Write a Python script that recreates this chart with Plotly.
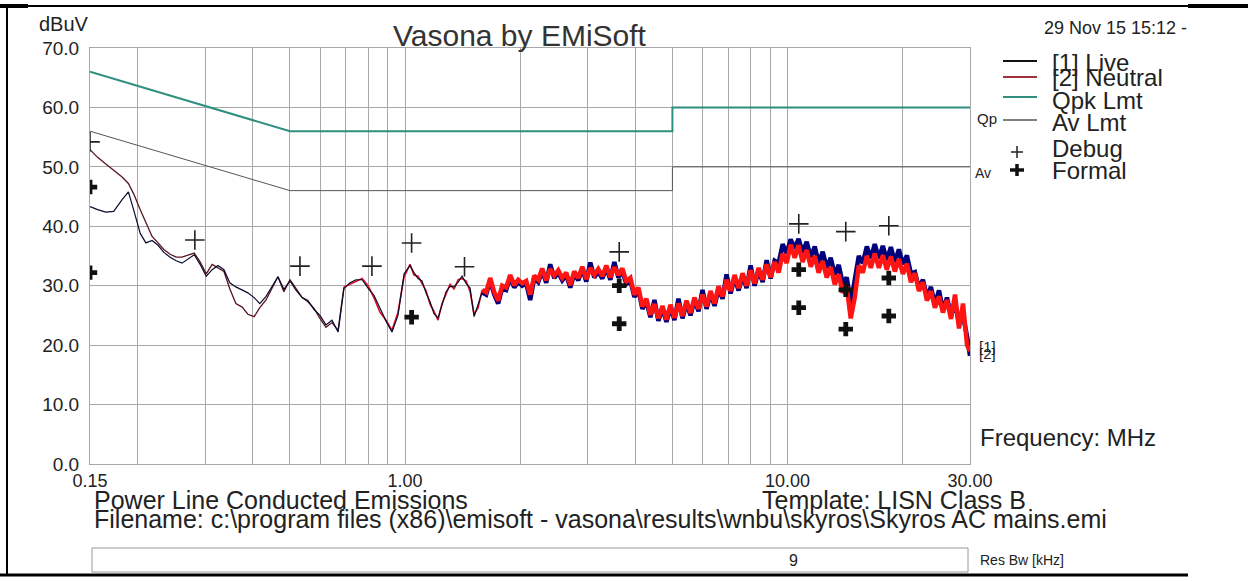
import plotly.graph_objects as go

# ---------------- data ----------------
# low-frequency sweep (MHz) and levels (dBuV)
freq_low = [0.150, 0.157, 0.165, 0.173, 0.182, 0.189, 0.195, 0.203, 0.210, 0.218,
            0.226, 0.234, 0.243, 0.252, 0.261, 0.271, 0.281, 0.291, 0.302, 0.313,
            0.324, 0.336, 0.348, 0.361, 0.375, 0.388, 0.403, 0.417, 0.433, 0.449,
            0.465, 0.482, 0.500, 0.519, 0.538, 0.557, 0.578, 0.599, 0.621, 0.644,
            0.668, 0.692, 0.718, 0.744, 0.772, 0.800, 0.829, 0.860, 0.892, 0.924,
            0.958, 0.994]
live_low = [43.3, 42.8, 42.4, 42.5, 44.5, 45.8, 42.8, 38.8, 37.2, 37.6,
            36.8, 35.6, 34.8, 34.2, 33.8, 34.5, 35.2, 33.6, 31.6, 32.7,
            33.4, 32.7, 30.5, 29.8, 29.3, 28.8, 28.0, 27.0, 28.2, 30.0,
            31.5, 29.4, 30.8, 29.2, 28.0, 27.5, 26.0, 25.0, 23.4, 24.2,
            22.2, 29.5, 30.5, 31.0, 31.0, 29.6, 28.4, 26.2, 24.0, 22.2,
            25.0, 32.0]
neutral_low = [52.9, 51.6, 50.5, 49.5, 48.3, 47.2, 45.5, 42.8, 40.6, 38.3,
               37.2, 36.1, 35.3, 34.8, 34.8, 35.2, 35.5, 34.0, 32.0, 33.6,
               33.0, 32.4, 29.5, 27.0, 26.4, 25.2, 24.8, 26.3, 27.6, 29.5,
               31.5, 29.0, 31.0, 29.5, 28.0, 27.3, 26.2, 24.5, 23.0, 23.8,
               22.5, 29.8, 30.3, 30.8, 31.2, 30.0, 28.0, 25.5, 24.2, 22.5,
               25.5, 31.5]

# high-frequency sweep (MHz) and levels (dBuV)
freq_high = [1.03, 1.055, 1.081, 1.107, 1.134, 1.162, 1.190, 1.219, 1.249, 1.280,
             1.311, 1.343, 1.376, 1.409, 1.444, 1.479, 1.515, 1.552, 1.590, 1.629,
             1.669, 1.709, 1.751, 1.794, 1.838, 1.883, 1.929, 1.976, 2.024, 2.073,
             2.124, 2.176, 2.229, 2.283, 2.339, 2.396, 2.455, 2.515, 2.576, 2.639,
             2.703, 2.769, 2.837, 2.906, 2.977, 3.050, 3.124, 3.200, 3.279, 3.359,
             3.441, 3.525, 3.611, 3.699, 3.789, 3.882, 3.977, 4.074, 4.173, 4.275,
             4.380, 4.487, 4.596, 4.709, 4.824, 4.942, 5.062, 5.186, 5.313, 5.442,
             5.575, 5.711, 5.851, 5.994, 6.140, 6.290, 6.444, 6.601, 6.762, 6.928,
             7.097, 7.270, 7.448, 7.630, 7.816, 8.007, 8.202, 8.403, 8.608, 8.818,
             9.033, 9.254, 9.480, 9.711, 9.949, 10.19, 10.44, 10.69, 10.95, 11.22,
             11.50, 11.78, 12.06, 12.36, 12.66, 12.97, 13.29, 13.61, 13.94, 14.28,
             14.63, 14.99, 15.36, 15.73, 16.12, 16.51, 16.91, 17.33, 17.75, 18.18,
             18.63, 19.08, 19.55, 20.03, 20.52, 21.02, 21.53, 22.06, 22.60, 23.15,
             23.71, 24.29, 24.89, 25.49, 26.12, 26.76, 27.41, 28.08, 28.76, 29.47,
             30.0]
live_high = [33.4, 32.2, 31.2, 30.8, 28.8, 27.3, 25.3, 24.6, 26.6, 29.0,
             29.9, 29.8, 30.6, 31.6, 30.4, 29.6, 24.8, 26.7, 28.9, 28.5,
             30.9, 28.6, 27.0, 29.6, 29.3, 31.4, 29.7, 30.6, 30.0, 30.4,
             27.6, 31.3, 30.6, 32.5, 30.5, 33.6, 31.3, 32.2, 30.9, 31.8,
             29.7, 32.0, 30.9, 32.8, 30.7, 33.9, 31.4, 32.4, 31.2, 33.0,
             31.0, 34.0, 31.4, 32.5, 30.3, 30.9, 28.1, 29.3, 26.1, 27.4,
             24.7, 27.6, 24.1, 26.2, 23.9, 26.4, 24.2, 27.8, 24.5, 27.1,
             25.0, 27.6, 25.7, 29.3, 26.1, 28.7, 26.6, 29.5, 27.8, 31.9,
             28.7, 31.4, 29.2, 31.7, 29.6, 33.4, 30.0, 32.6, 30.6, 34.3,
             31.2, 34.2, 33.8, 37.0, 35.4, 37.8, 36.3, 37.9, 35.6, 37.4,
             34.8, 36.6, 33.8, 35.7, 33.0, 34.7, 31.8, 33.5, 30.4, 31.4,
             27.0, 30.5, 35.0, 33.8, 36.6, 34.6, 37.0, 34.6, 36.7, 34.3,
             36.5, 34.0, 36.1, 33.6, 35.1, 32.0, 32.3, 29.6, 31.0, 28.0,
             29.8, 26.8, 29.2, 25.9, 28.0, 24.9, 27.2, 23.6, 25.0, 21.5,
             18.2]
neutral_high = [33.6, 31.8, 31.6, 30.4, 29.2, 26.9, 25.7, 24.2, 27.0, 28.6,
                30.3, 29.4, 31.0, 31.2, 30.8, 29.0, 25.2, 26.3, 29.3, 28.9,
                31.3, 29.0, 27.5, 30.0, 29.7, 31.8, 30.1, 31.0, 30.4, 30.8,
                28.5, 31.7, 31.0, 32.9, 30.9, 32.8, 31.7, 32.6, 31.3, 32.2,
                30.1, 32.4, 31.3, 33.2, 31.1, 33.0, 31.8, 32.8, 31.6, 33.4,
                31.4, 33.1, 31.8, 32.9, 30.7, 31.3, 28.5, 29.7, 26.5, 27.8,
                25.1, 26.9, 24.5, 26.6, 24.3, 26.8, 24.6, 27.0, 24.9, 27.5,
                25.4, 28.0, 26.1, 28.5, 26.5, 29.1, 27.0, 29.9, 28.2, 31.0,
                29.1, 31.8, 29.6, 32.1, 30.0, 32.6, 30.4, 33.0, 31.0, 33.6,
                31.4, 34.0, 32.2, 35.4, 33.8, 36.9, 34.7, 36.8, 34.0, 36.0,
                33.2, 35.0, 32.2, 34.1, 31.4, 33.1, 30.2, 31.9, 28.8, 29.8,
                24.5, 28.0, 33.4, 32.2, 35.0, 33.0, 35.4, 33.0, 35.1, 32.7,
                34.9, 32.4, 34.5, 32.0, 33.7, 30.6, 32.1, 29.1, 30.6, 27.5,
                29.1, 26.3, 28.2, 25.5, 27.6, 24.4, 28.5, 22.8, 27.0, 20.0,
                19.0]

# limit lines
limit_freq = [0.15, 0.5, 5.0, 5.0, 30.0]
qpk_limit = [66.0, 56.0, 56.0, 60.0, 60.0]
av_limit = [56.0, 46.0, 46.0, 50.0, 50.0]

# measured points
debug_freq = [0.15, 0.282, 0.531, 0.819, 1.04, 1.43, 3.63, 10.7, 14.2, 18.4]
debug_level = [54.2, 37.7, 33.3, 33.3, 37.2, 33.2, 35.7, 40.4, 39.1, 40.1]
formal_freq = [0.15, 0.15, 1.04, 3.63, 3.63, 10.7, 10.7, 14.2, 14.2, 18.4, 18.4]
formal_level = [46.6, 32.2, 24.7, 30.0, 23.6, 32.7, 26.3, 29.3, 22.7, 31.3, 24.9]

# axis ticks
x_grid_vals = [0.15, 0.2, 0.3, 0.4, 0.5, 0.6, 0.7, 0.8, 0.9, 1, 2, 3, 4, 5, 6, 7, 8, 9, 10, 20, 30]
x_grid_text = ["0.15", "", "", "", "", "", "", "", "", "1.00", "", "", "", "", "", "", "", "", "10.00", "", "30.00"]
y_vals = [0, 10, 20, 30, 40, 50, 60, 70]
y_text = ["0.0", "10.0", "20.0", "30.0", "40.0", "50.0", "60.0", "70.0"]

# ---------------- colours / geometry ----------------
C_LIVE = "#00007a"
C_NEUT = "#ff1414"
C_NEUT_LOW = "#5a1420"
C_QPK = "#2e8f7e"
C_AV = "#555555"
FONT = "Liberation Sans, Arial, sans-serif"
TXT = "#222222"

W, H = 1248, 581
L, R, T, B = 90, 970, 48, 464
SPLIT = 18      # sweep points below ~1.6 MHz are drawn as a thin trace
RED_FROM = 41   # neutral turns visibly red from ~0.7 MHz

fig = go.Figure()
fig.add_trace(go.Scatter(x=limit_freq, y=qpk_limit, mode="lines",
                         line=dict(color=C_QPK, width=2), showlegend=False))
fig.add_trace(go.Scatter(x=limit_freq, y=av_limit, mode="lines",
                         line=dict(color=C_AV, width=1), showlegend=False))
# low-frequency portion (thin)
fig.add_trace(go.Scatter(x=freq_low[:RED_FROM + 1], y=neutral_low[:RED_FROM + 1],
                         mode="lines", line=dict(color=C_NEUT_LOW, width=1.3),
                         showlegend=False))
fig.add_trace(go.Scatter(x=freq_low[RED_FROM:] + freq_high[:SPLIT + 1],
                         y=neutral_low[RED_FROM:] + neutral_high[:SPLIT + 1],
                         mode="lines", line=dict(color="#e01020", width=1.6),
                         showlegend=False))
fig.add_trace(go.Scatter(x=freq_low + freq_high[:SPLIT + 1],
                         y=live_low + live_high[:SPLIT + 1],
                         mode="lines", line=dict(color="#0a0a30", width=1.2),
                         showlegend=False))
# high-frequency portion (dense sweep)
fig.add_trace(go.Scatter(x=freq_high[SPLIT:], y=live_high[SPLIT:], mode="lines",
                         line=dict(color=C_LIVE, width=4.5), showlegend=False))
fig.add_trace(go.Scatter(x=freq_high[SPLIT:], y=neutral_high[SPLIT:], mode="lines",
                         line=dict(color=C_NEUT, width=4.5), showlegend=False))
fig.add_trace(go.Scatter(x=debug_freq, y=debug_level, mode="markers",
                         marker=dict(symbol="cross-thin", size=14,
                                     line=dict(color="#222222", width=1.6)),
                         showlegend=False))
fig.add_trace(go.Scatter(x=formal_freq, y=formal_level, mode="markers",
                         marker=dict(symbol="cross", size=12, color="#111111",
                                     line=dict(width=0)),
                         showlegend=False))


def px(x):
    return (x - L) / (R - L)


def py(y):
    return (B - y) / (B - T)


ann = []


def text(x, y, s, size, xanchor="left", color=TXT):
    ann.append(dict(x=px(x), y=py(y), xref="paper", yref="paper", text=s,
                    showarrow=False, xanchor=xanchor, yanchor="middle",
                    font=dict(family=FONT, size=size, color=color)))


text(520, 35, "Vasona by EMiSoft", 30, "center", "#333333")
text(37, 24, "dBuV", 20)
text(1042, 28, "29 Nov 15 15:12 -", 18)
legend_items = ["[1] Live", "[2] Neutral", "Qpk Lmt", "Av Lmt", "Debug", "Formal"]
legend_y = [62, 78, 100, 122, 148, 171]
for s, yy in zip(legend_items, legend_y):
    text(1050, yy, s, 24)
text(975, 119, "Qp", 15)
text(973, 173, "Av", 14)
text(977, 346, "[1]", 15)
text(977, 353, "[2]", 15)
text(978, 437, "Frequency: MHz", 24)
text(92, 500, "Power Line Conducted Emissions", 25)
text(760, 500, "Template: LISN Class B", 25)
text(92, 519, "Filename: c:\\program files (x86)\\emisoft - vasona\\results\\wnbu\\skyros\\Skyros AC mains.emi", 25)
text(793, 560, "9", 16, "center")
text(978, 560, "Res Bw [kHz]", 14)

shapes = []


def seg(x0, y0, x1, y1, color, width):
    shapes.append(dict(type="line", xref="paper", yref="paper",
                       x0=px(x0), y0=py(y0), x1=px(x1), y1=py(y1),
                       line=dict(color=color, width=width)))


# legend samples
seg(1003, 61, 1037, 61, "#111111", 2)
seg(1003, 77, 1037, 77, "#a0303a", 2)
seg(1003, 97, 1037, 97, C_QPK, 2)
seg(1003, 120, 1037, 120, C_AV, 1.5)
seg(1011, 152, 1023, 152, "#222222", 1.5)
seg(1017, 146, 1017, 158, "#222222", 1.5)
seg(1010, 170, 1024, 170, "#111111", 3.5)
seg(1017, 164, 1017, 176, "#111111", 3.5)
# page frame
seg(0, 6, 1248, 6, "#000000", 2)
seg(1188, 6, 1248, 6, "#000000", 4)
seg(0, 6, 28, 6, "#000000", 4)
seg(7, 6, 7, 576, "#000000", 2)
seg(0, 575, 1188, 575, "#000000", 3)
# res bw box
shapes.append(dict(type="rect", xref="paper", yref="paper",
                   x0=px(92), y0=py(548), x1=px(968), y1=py(572),
                   line=dict(color="#9a9a9a", width=1)))

fig.update_layout(
    width=W, height=H, autosize=False,
    margin=dict(l=L, r=W - R, t=T, b=H - B, pad=0),
    paper_bgcolor="white", plot_bgcolor="white",
    annotations=ann, shapes=shapes, showlegend=False,
    xaxis=dict(type="log", range=[-0.82391, 1.47712],
               tickvals=x_grid_vals, ticktext=x_grid_text, ticks="",
               showgrid=True, gridcolor="#a8a8a8", gridwidth=1,
               showline=True, linecolor="#a8a8a8", linewidth=1, mirror=True,
               zeroline=False, tickangle=0,
               tickfont=dict(family=FONT, size=18, color=TXT)),
    yaxis=dict(range=[0, 70], tickvals=y_vals, ticktext=y_text, ticks="",
               showgrid=True, gridcolor="#a8a8a8", gridwidth=1,
               showline=True, linecolor="#a8a8a8", linewidth=1, mirror=True,
               zeroline=False, ticklabelstandoff=6,
               tickfont=dict(family=FONT, size=19, color=TXT)),
)

fig.write_html("out.html", config={"displayModeBar": False},
               post_script="document.body.style.margin='0px';"
                           "document.body.style.overflow='hidden';")
